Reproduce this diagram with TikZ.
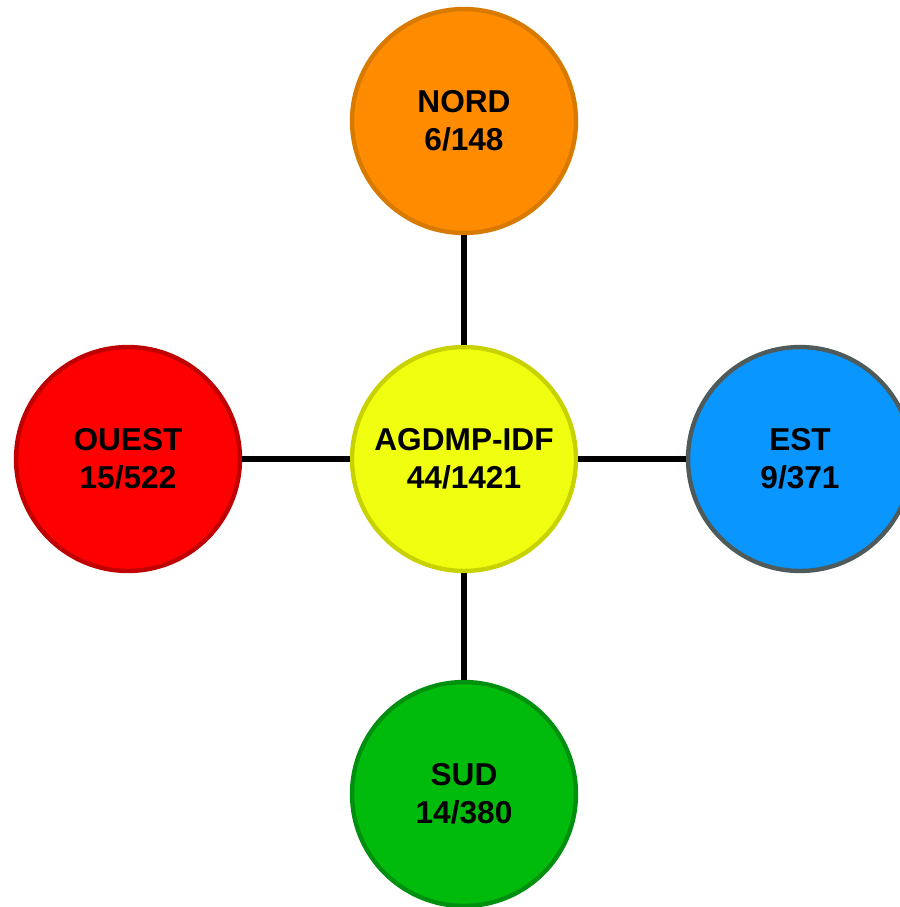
\documentclass[tikz,border=0pt]{standalone}
\usepackage{fontspec}
\setmainfont{Liberation Sans}
\usepackage{tikz}
\usetikzlibrary{arrows.meta}

\definecolor{nordfill}{HTML}{FF8C00}
\definecolor{norddraw}{HTML}{D97A00}
\definecolor{idffill}{HTML}{F0FF0F}
\definecolor{idfdraw}{HTML}{C8D200}
\definecolor{estfill}{HTML}{0A96FF}
\definecolor{estdraw}{HTML}{4F5B5B}
\definecolor{ouestfill}{HTML}{FF0000}
\definecolor{ouestdraw}{HTML}{C00000}
\definecolor{sudfill}{HTML}{00BB0C}
\definecolor{suddraw}{HTML}{009010}

\begin{document}
\begin{tikzpicture}[x=0.02cm,y=-0.02cm]
\useasboundingbox (0,0) rectangle (900,907);

\begin{scope}[every node/.style={circle,line width=2.5pt,draw,inner sep=0pt,
              minimum size=4.48cm,align=center,font=\fontsize{18}{21.5}\selectfont\bfseries}]
    \node[fill=idffill,draw=idfdraw] (idf) at (464,459) {AGDMP-IDF\\44/1421};
    \node[fill=nordfill,draw=norddraw] (nord) at (464,121) {NORD\\6/148};
    \node[fill=estfill,draw=estdraw] (est) at (800,459) {EST\\9/371};
    \node[fill=sudfill,draw=suddraw] (sud) at (464,794) {SUD\\14/380};
    \node[fill=ouestfill,draw=ouestdraw] (ouest) at (128,459) {OUEST\\15/522};
\end{scope}

\begin{scope}[every edge/.style={draw=black,line width=2.9pt}]
    \path (idf) edge (nord);
    \path (idf) edge (est);
    \path (idf) edge (sud);
    \path (idf) edge (ouest);
\end{scope}
\end{tikzpicture}
\end{document}
